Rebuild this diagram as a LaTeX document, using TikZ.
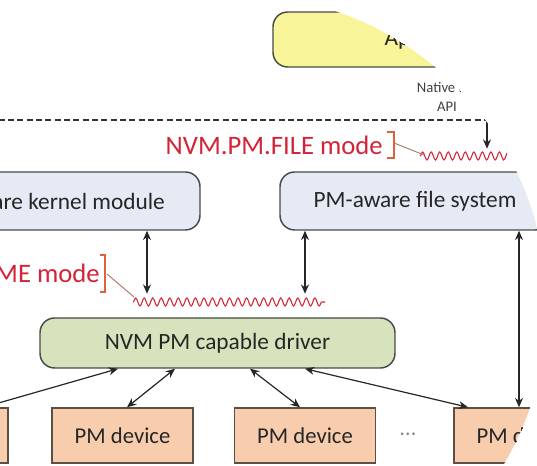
\documentclass[tikz,border=0pt]{standalone}
\usepackage{fontspec}
\setmainfont{Carlito}
\usetikzlibrary{arrows.meta,calc,decorations.pathmorphing}
\definecolor{appyel}{HTML}{F7F49A}
\definecolor{bluebox}{HTML}{E5EAF4}
\definecolor{greenbox}{HTML}{D7E3BD}
\definecolor{orangebox}{HTML}{F8CDAE}
\definecolor{boxline}{HTML}{4A4A4A}
\definecolor{modered}{HTML}{D32437}
\definecolor{brackc}{HTML}{E0603A}
\definecolor{leadc}{HTML}{A87868}
\tikzset{
  rbox/.style={draw=boxline, line width=1.1pt, rounded corners=11pt, inner sep=0pt, font=\fontsize{17.5}{20}\selectfont, text=black!85},
  devbox/.style={draw=boxline!90!orange, line width=1.1pt, fill=orangebox, inner sep=0pt, minimum width=105.75pt, minimum height=41.25pt, font=\fontsize{17}{20}\selectfont, text=black!85},
  modetxt/.style={text=modered, font=\fontsize{20}{24}\selectfont, inner sep=0pt, anchor=east},
  dbl/.style={{Stealth[length=7pt,width=6pt]}-{Stealth[length=7pt,width=6pt]}, line width=0.9pt, draw=black!85},
  sgl/.style={-{Stealth[length=7pt,width=6pt]}, line width=0.9pt, draw=black!85},
  wavy/.style={draw=modered, line width=0.8pt, decorate, decoration={snake, segment length=6.4pt, amplitude=3pt}},
  brack/.style={draw=brackc, line width=0.8pt},
  lead/.style={draw=leadc, line width=0.7pt}
}
\begin{document}
\begin{tikzpicture}[x=0.75pt,y=-0.75pt]
\useasboundingbox (0,0) rectangle (537,466);
\begin{scope}
\clip (236,306) circle [radius=233.25pt];
% boundary
\draw[black!80, line width=1.1pt, dash pattern=on 4.5pt off 2.5pt] (-20,120) -- (600,120);
% boxes
\node[rbox, fill=appyel, minimum width=247.5pt, minimum height=41.25pt] (app) at (438,39.5) {Application};
\node[text=black!75, font=\fontsize{11}{14}\selectfont, align=center, inner sep=0pt] (nat) at (447,97) {Native file\\API};
\node[rbox, fill=bluebox, minimum width=222pt, minimum height=43.5pt] (km) at (52,201) {PM-aware kernel module\hspace*{10pt}};
\node[rbox, fill=bluebox, minimum width=202.5pt, minimum height=43.5pt] (fs) at (415,201) {PM-aware file system};
\node[rbox, fill=greenbox, minimum width=266.25pt, minimum height=37.5pt] (drv) at (217.5,343) {NVM PM capable driver};
\node[devbox] (dev1) at (-62.5,435.5) {PM device};
\node[devbox] (dev2) at (122.5,435.5) {PM device};
\node[devbox] (dev3) at (305,435.5) {PM device};
\node[devbox] (dev4) at (524.5,435.5) {PM device};
\node[text=black!45, font=\fontsize{17}{20}\selectfont, inner sep=0pt] (dots) at (408,434) {\dots};
% mode labels
\node[modetxt] (filemode) at (383,145) {NVM.PM.FILE mode};
\node[modetxt] (volmode) at (100,273) {NVM.PM.VOLUME mode};
% waves
\coordinate (w2a) at (420,156);
\coordinate (w2b) at (560,156);
\coordinate (w1a) at (133,302);
\coordinate (w1b) at (325,302);
\draw[wavy] (w2a) -- (w2b);
\draw[wavy] (w1a) -- (w1b);
% brackets and leaders
\draw[brack] ($(filemode.east)+(4,-13)$) -- ++(7,0) -- ++(0,26) -- ++(-7,0);
\draw[lead] ($(filemode.east)+(11,-2)$) -- ($(w2a)+(4,-1)$);
\draw[brack] ($(volmode.east)+(0,-18)$) -- ++(5,0) -- ++(0,37) -- ++(-5,0);
\draw[lead] ($(volmode.east)+(7,1)$) -- ($(w1a)+(1,-5)$);
% arrows
\coordinate (appout) at ($(app.south)+(49,0)$);
\coordinate (kmout) at ($(km.south)+(95,0)$);
\coordinate (fsl) at ($(fs.south)+(-110,0)$);
\coordinate (fsr) at ($(fs.south)+(104,0)$);
\draw[sgl] (appout) -- ++(0,81);
\draw[dbl] (kmout) -- ++(0,63);
\draw[dbl] (fsl) -- ++(0,63);
\draw[dbl] (fsr) -- (fsr |- dev4.north);
\draw[dbl] ($(dev1.north east)+(-25,0)$) -- ($(drv.south)+(-99.5,0)$);
\draw[dbl] ($(dev2.north)+(4.5,0)$) -- ($(drv.south)+(-42.5,0)$);
\draw[dbl] ($(dev3.north)+(-5,0)$) -- ($(drv.south)+(32.5,0)$);
\draw[dbl] ($(dev4.north)+(-56.5,0)$) -- ($(drv.south)+(87.5,0)$);
\end{scope}
\end{tikzpicture}
\end{document}
